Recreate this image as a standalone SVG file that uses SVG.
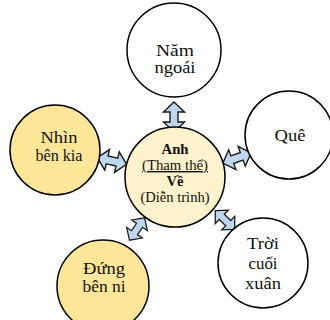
<svg xmlns="http://www.w3.org/2000/svg" width="330" height="320" viewBox="0 0 330 320">
<style>
.n{stroke:#000;stroke-width:1.5}
.w{fill:#fff}
.g{fill:#FFE699}
.c{fill:#FFF2CC}
text{font-family:'Liberation Serif','Times New Roman',serif;fill:#111;text-anchor:middle}
.t{font-size:16px}
.s{font-size:14px}
.a{fill:#BDD7EE;stroke:#1a1a1a;stroke-width:1.4;stroke-linejoin:miter}
</style>
<defs>
<path id="arr" d="M-15,0 L-5,-10.5 L-5,-4 L5,-4 L5,-10.5 L15,0 L5,10.5 L5,4 L-5,4 L-5,10.5 Z"/>
</defs>
<g id="connectors">
<use href="#arr" class="a" transform="translate(174,117) rotate(90)"/>
<use href="#arr" class="a" transform="translate(112,161) rotate(13)"/>
<use href="#arr" class="a" transform="translate(237,158) rotate(-20)"/>
<use href="#arr" class="a" transform="translate(137,229) rotate(-56) scale(0.9)"/>
<use href="#arr" class="a" transform="translate(225,220) rotate(44) scale(0.9)"/>
</g>
<g id="center">
<circle class="n c" cx="175" cy="177" r="50"/>
<text class="s" x="175" y="154" font-weight="bold" textLength="27" lengthAdjust="spacingAndGlyphs">Anh</text>
<text class="s" x="175" y="170" text-decoration="underline" textLength="66" lengthAdjust="spacingAndGlyphs">(Tham thể)</text>
<text class="s" x="175" y="186" font-weight="bold" textLength="17" lengthAdjust="spacingAndGlyphs">Về</text>
<text class="s" x="175" y="202" textLength="69" lengthAdjust="spacingAndGlyphs">(Diễn trình)</text>
</g>
<g id="nam-ngoai">
<circle class="n w" cx="174" cy="50" r="47"/>
<text class="t" x="175" y="56" textLength="38" lengthAdjust="spacingAndGlyphs">Năm</text>
<text class="t" x="175" y="73" textLength="41" lengthAdjust="spacingAndGlyphs">ngoái</text>
</g>
<g id="que">
<circle class="n w" cx="289" cy="135" r="44"/>
<text class="t" x="290" y="141" textLength="31" lengthAdjust="spacingAndGlyphs">Quê</text>
</g>
<g id="nhin-ben-kia">
<circle class="n g" cx="55" cy="150" r="45"/>
<text class="t" x="59" y="143" textLength="37" lengthAdjust="spacingAndGlyphs">Nhìn</text>
<text class="t" x="59" y="161" textLength="47" lengthAdjust="spacingAndGlyphs">bên kia</text>
</g>
<g id="dung-ben-ni">
<circle class="n g" cx="103" cy="286" r="46"/>
<text class="t" x="104" y="274" textLength="42" lengthAdjust="spacingAndGlyphs">Đứng</text>
<text class="t" x="104" y="292" textLength="43" lengthAdjust="spacingAndGlyphs">bên ni</text>
</g>
<g id="troi-cuoi-xuan">
<circle class="n w" cx="263" cy="263" r="45"/>
<text class="t" x="263" y="249" textLength="32" lengthAdjust="spacingAndGlyphs">Trời</text>
<text class="t" x="263" y="269" textLength="29" lengthAdjust="spacingAndGlyphs">cuối</text>
<text class="t" x="263" y="289" textLength="36" lengthAdjust="spacingAndGlyphs">xuân</text>
</g>
</svg>
